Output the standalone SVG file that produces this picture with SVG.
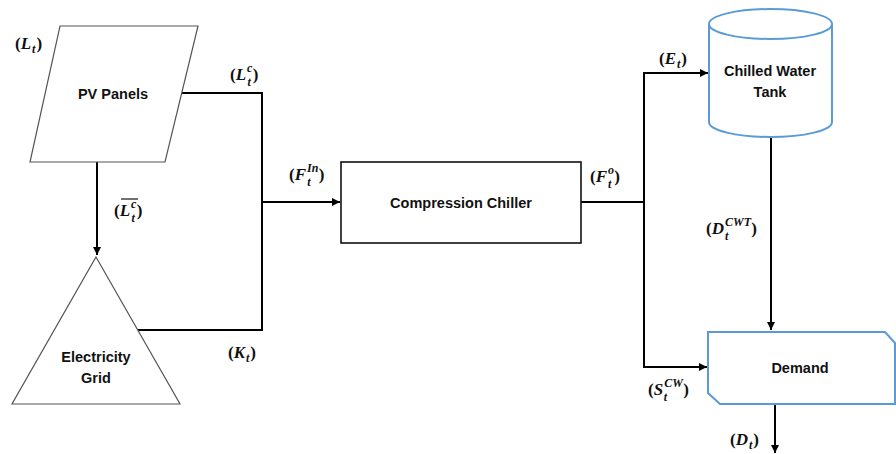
<svg xmlns="http://www.w3.org/2000/svg" width="896" height="454" viewBox="0 0 896 454">
<style>
.shape{fill:#fff;stroke:#555;stroke-width:1.2}
.blue{fill:#fff;stroke:#5B9BD5;stroke-width:2}
.nt{font-family:"Liberation Sans",Arial,sans-serif;font-weight:bold;font-size:14.5px;fill:#111;text-anchor:middle}
.conn{fill:none;stroke:#000;stroke-width:2}
.lb{font-family:"Liberation Serif","Times New Roman",serif;font-weight:bold;font-size:17px;fill:#111}
.it{font-style:italic}
.s{font-style:italic;font-size:12px}
</style>
<defs>
<marker id="ah" viewBox="0 0 10 10" refX="10" refY="5" markerWidth="4" markerHeight="4" orient="auto" markerUnits="strokeWidth">
<path d="M0,0 L10,5 L0,10 z" fill="#000"/>
</marker>
</defs>

<g id="connectors">
<polyline class="conn" points="182,93 262,93 262,330 138,330"/>
<line class="conn" x1="262" y1="202" x2="340" y2="202" marker-end="url(#ah)"/>
<line class="conn" x1="97" y1="162" x2="97" y2="255" marker-end="url(#ah)"/>
<line class="conn" x1="581" y1="202" x2="644" y2="202"/>
<polyline class="conn" points="644,367 644,73 708,73" marker-end="url(#ah)"/>
<polyline class="conn" points="644,300 644,367 707,367" marker-end="url(#ah)"/>
<line class="conn" x1="771" y1="138" x2="771" y2="330" marker-end="url(#ah)"/>
<line class="conn" x1="775" y1="405" x2="775" y2="453" marker-end="url(#ah)"/>
</g>

<g id="pv">
<polygon class="shape" points="60,26 198,26 165,162 30,162"/>
<text class="nt" x="113" y="99">PV Panels</text>
</g>

<g id="grid">
<polygon class="shape" points="96,257 180,404 12,404"/>
<text class="nt" x="96" y="362">Electricity</text>
<text class="nt" x="96" y="383">Grid</text>
</g>

<g id="chiller">
<rect class="shape" x="341" y="162" width="240" height="81" style="stroke:#111;stroke-width:1.6"/>
<text class="nt" x="461" y="208">Compression Chiller</text>
</g>

<g id="tank">
<path class="blue" d="M709,24 L709,122 A61.5,15 0 0 0 832,122 L832,24"/>
<ellipse class="blue" cx="770.5" cy="24" rx="61.5" ry="15"/>
<text class="nt" x="770" y="76">Chilled Water</text>
<text class="nt" x="770" y="97">Tank</text>
</g>

<g id="demand">
<polygon class="blue" points="708,332 885,332 895,343 895,404 720,404 708,393"/>
<text class="nt" x="800" y="373">Demand</text>
</g>

<g id="labels">
<text class="lb" x="15" y="49">(<tspan class="it">L</tspan><tspan class="s" dx="1" dy="4">t</tspan><tspan dx="1" dy="-4">)</tspan></text>
<text class="lb" x="230" y="80">(<tspan class="it">L</tspan><tspan class="s" dx="1" dy="-8">c</tspan><tspan class="s" dx="-5" dy="14">t</tspan><tspan dx="2" dy="-6">)</tspan></text>
<text class="lb" x="114" y="216">(<tspan class="it">L</tspan><tspan class="s" dx="1" dy="-8">c</tspan><tspan class="s" dx="-5" dy="14">t</tspan><tspan dx="2" dy="-6">)</tspan></text>
<line x1="121" y1="199" x2="138" y2="199" stroke="#111" stroke-width="1.2"/>
<text class="lb" x="228" y="358">(<tspan class="it">K</tspan><tspan class="s" dx="1" dy="4">t</tspan><tspan dx="1" dy="-4">)</tspan></text>
<text class="lb" x="289" y="180">(<tspan class="it">F</tspan><tspan class="s" dx="1" dy="-8">In</tspan><tspan class="s" dx="-11" dy="14">t</tspan><tspan dx="8" dy="-6">)</tspan></text>
<text class="lb" x="590" y="182">(<tspan class="it">F</tspan><tspan class="s" dx="1" dy="-8">o</tspan><tspan class="s" dx="-6" dy="14">t</tspan><tspan dx="3" dy="-6">)</tspan></text>
<text class="lb" x="659" y="64">(<tspan class="it">E</tspan><tspan class="s" dx="1" dy="4">t</tspan><tspan dx="1" dy="-4">)</tspan></text>
<text class="lb" x="706" y="234">(<tspan class="it">D</tspan><tspan class="s" dx="1" dy="-8">CWT</tspan><tspan class="s" dx="-26" dy="14">t</tspan><tspan dx="23" dy="-6">)</tspan></text>
<text class="lb" x="648" y="395">(<tspan class="it">S</tspan><tspan class="s" dx="1" dy="-8">CW</tspan><tspan class="s" dx="-19" dy="14">t</tspan><tspan dx="16" dy="-6">)</tspan></text>
<text class="lb" x="730" y="445">(<tspan class="it">D</tspan><tspan class="s" dx="1" dy="4">t</tspan><tspan dx="1" dy="-4">)</tspan></text>
</g>
</svg>
